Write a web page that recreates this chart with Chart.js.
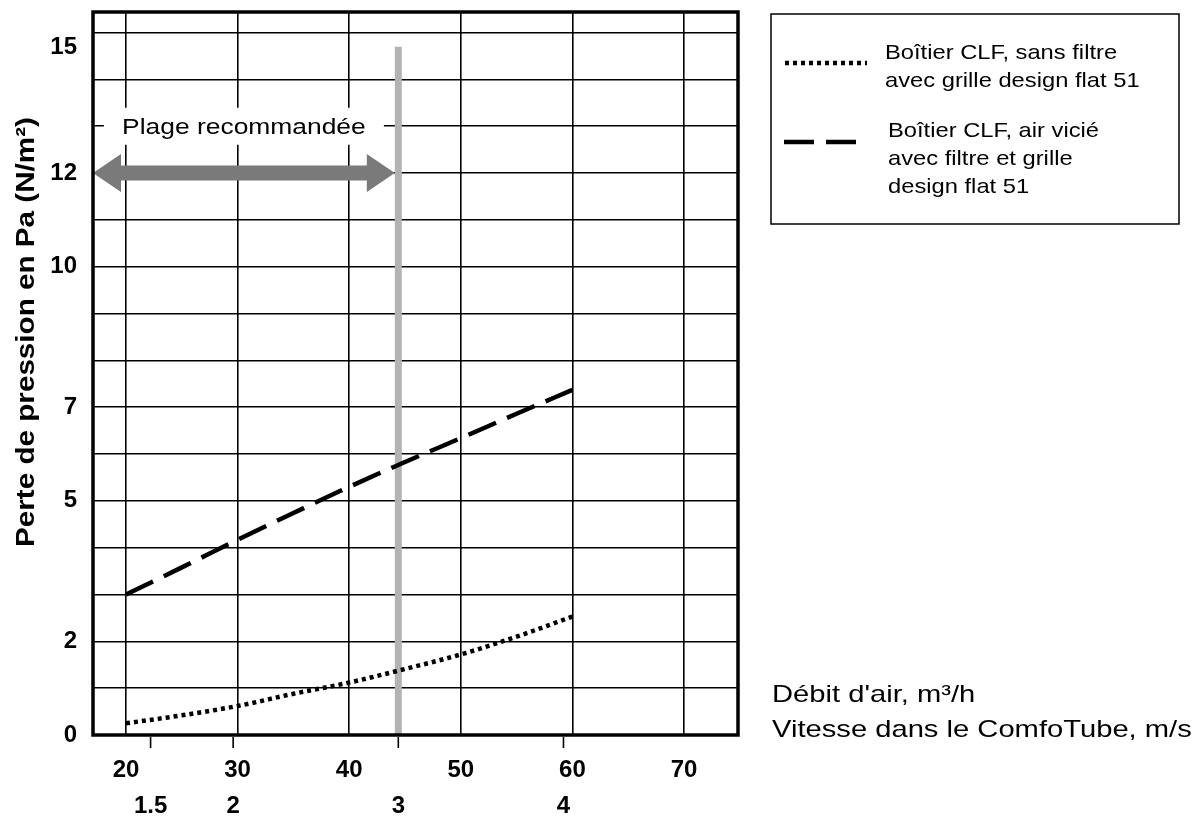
<!DOCTYPE html>
<html lang="fr">
<head>
<meta charset="utf-8">
<title>Perte de pression - Boîtier CLF</title>
<script src="https://cdn.jsdelivr.net/npm/chart.js@4.4.1/dist/chart.umd.min.js"></script>
<style>
  html, body { margin: 0; padding: 0; background: #fff; }
  #wrap { position: relative; width: 1196px; height: 816px; }
</style>
</head>
<body>
<div id="wrap"><canvas id="chart"></canvas></div>
<script>
// débit d'air (m3/h) and pressure loss (Pa)
const flow       = [20, 25, 30, 35, 40, 45, 50, 55, 60];
const sansFiltre = [0.25, 0.42, 0.62, 0.88, 1.12, 1.41, 1.72, 2.10, 2.53];
const airVicie   = [3.00, 3.58, 4.17, 4.74, 5.30, 5.83, 6.34, 6.86, 7.37];

const legendLines = [
  ['Boîtier CLF, sans filtre', 'avec grille design flat 51'],
  ['Boîtier CLF, air vicié', 'avec filtre et grille', 'design flat 51']
];

const flowTicks  = [20, 30, 40, 50, 60, 70];
const speedTicks = [1.5, 2, 3, 4];
const yGrid      = [0, 1, 2, 3, 4, 5, 6, 7, 8, 9, 10, 11, 12, 13, 14, 15];
const yLabels    = [0, 2, 5, 7, 10, 12, 15];

const m3hPerMs   = 14.8;   // m3/h per m/s in the ComfoTube
const recoSpeed  = 3;      // m/s, end of recommended range
const recoTop    = 14.7;
const arrowY     = 12;
const rangeLabelY = 13;
const flowMin = 17.04, flowMax = 74.84, yMax = 15.44;

const FONT = "'Liberation Sans', Arial, Helvetica, sans-serif";
Chart.defaults.font.family = FONT;
Chart.defaults.color = '#000';

function stretchText(ctx, text, x, y, font, sx, align) {
  ctx.save();
  ctx.font = font;
  ctx.fillStyle = '#000';
  ctx.textAlign = align || 'left';
  ctx.textBaseline = 'alphabetic';
  ctx.translate(x, y);
  ctx.scale(sx, 1);
  ctx.fillText(text, 0, 0);
  ctx.restore();
}

function noPad(s) {
  s.paddingTop = 0;
  s.paddingBottom = 0;
  s.paddingLeft = 0;
  s.paddingRight = 0;
}

const decor = {
  id: 'decor',
  beforeDatasetsDraw(chart) {
    const {ctx, chartArea: a, scales: {x, y}} = chart;
    const yc = y.getPixelForValue(arrowY);
    const x0 = a.left;
    const x1 = x.getPixelForValue(recoSpeed * m3hPerMs) - 3.5;
    const hl = 28, hh = 19, sh = 7.5;
    ctx.save();
    ctx.fillStyle = '#7a7a7a';
    ctx.beginPath();
    ctx.moveTo(x0, yc);
    ctx.lineTo(x0 + hl, yc - hh);
    ctx.lineTo(x0 + hl, yc - sh);
    ctx.lineTo(x1 - hl, yc - sh);
    ctx.lineTo(x1 - hl, yc - hh);
    ctx.lineTo(x1, yc);
    ctx.lineTo(x1 - hl, yc + hh);
    ctx.lineTo(x1 - hl, yc + sh);
    ctx.lineTo(x0 + hl, yc + sh);
    ctx.lineTo(x0 + hl, yc + hh);
    ctx.closePath();
    ctx.fill();

    const cx = (x0 + x1) / 2;
    const cy = y.getPixelForValue(rangeLabelY);
    ctx.fillStyle = '#fff';
    ctx.fillRect(cx - 140, cy - 18.5, 280, 37);
    ctx.restore();
    stretchText(ctx, 'Plage recommandée', cx, cy + 8, '22px ' + FONT, 1.2, 'center');
  },
  afterDatasetsDraw(chart) {
    const {ctx, chartArea: a, scales} = chart;
    ctx.save();
    ctx.strokeStyle = '#000';
    ctx.lineWidth = 1.6;
    speedTicks.forEach(v => {
      const px = scales.speed.getPixelForValue(v);
      ctx.beginPath();
      ctx.moveTo(px, a.bottom + 2);
      ctx.lineTo(px, a.bottom + 13);
      ctx.stroke();
    });
    ctx.lineWidth = 3.5;
    ctx.strokeRect(a.left, a.top, a.right - a.left, a.bottom - a.top);
    ctx.restore();
  },
  afterDraw(chart) {
    const ctx = chart.ctx;
    // legend box
    ctx.save();
    ctx.strokeStyle = '#000';
    ctx.lineWidth = 1.5;
    ctx.strokeRect(771, 14, 408, 210);
    const samples = [{y: 63, x0: 785, x1: 867}, {y: 142, x0: 784, x1: 860}];
    chart.data.datasets.slice(0, 2).forEach((ds, i) => {
      ctx.beginPath();
      ctx.lineWidth = ds.borderWidth;
      ctx.lineCap = 'butt';
      ctx.setLineDash(ds.borderDash);
      ctx.moveTo(samples[i].x0, samples[i].y);
      ctx.lineTo(samples[i].x1, samples[i].y);
      ctx.stroke();
    });
    ctx.restore();
    const textX = [885, 888];
    const firstBase = [59, 137];
    legendLines.forEach((lines, i) => {
      lines.forEach((t, j) => {
        stretchText(ctx, t, textX[i], firstBase[i] + j * 28, '21px ' + FONT, 1.13);
      });
    });

    // axis titles
    stretchText(ctx, "Débit d'air, m³/h", 772, 702, '24px ' + FONT, 1.215);
    stretchText(ctx, 'Vitesse dans le ComfoTube, m/s', 772, 737, '24px ' + FONT, 1.215);

    ctx.save();
    ctx.translate(34, 332);
    ctx.rotate(-Math.PI / 2);
    ctx.scale(1.14, 1);
    ctx.font = 'bold 26px ' + FONT;
    ctx.fillStyle = '#000';
    ctx.textAlign = 'center';
    ctx.textBaseline = 'alphabetic';
    ctx.fillText('Perte de pression en Pa (N/m²)', 0, 0);
    ctx.restore();
  }
};

const recoFlow = recoSpeed * m3hPerMs;

new Chart(document.getElementById('chart'), {
  type: 'line',
  data: {
    datasets: [
      {
        label: legendLines[0].join(' '),
        data: flow.map((f, i) => ({x: f, y: sansFiltre[i]})),
        borderColor: '#000',
        borderWidth: 4.5,
        borderDash: [4, 4],
        borderCapStyle: 'butt',
        pointRadius: 0,
        cubicInterpolationMode: 'monotone',
        order: 1
      },
      {
        label: legendLines[1].join(' '),
        data: flow.map((f, i) => ({x: f, y: airVicie[i]})),
        borderColor: '#000',
        borderWidth: 4.5,
        borderDash: [30, 12],
        borderCapStyle: 'butt',
        pointRadius: 0,
        cubicInterpolationMode: 'monotone',
        order: 2
      },
      {
        label: 'Plage recommandée',
        data: [{x: recoFlow, y: 0}, {x: recoFlow, y: recoTop}],
        borderColor: '#b3b3b3',
        borderWidth: 7,
        borderCapStyle: 'butt',
        pointRadius: 0,
        order: 5
      }
    ]
  },
  options: {
    responsive: true,
    maintainAspectRatio: false,
    animation: false,
    layout: {padding: {top: 12, right: 458, left: 0, bottom: 0}},
    plugins: {legend: {display: false}, tooltip: {enabled: false}},
    scales: {
      x: {
        type: 'linear',
        position: 'bottom',
        weight: 0,
        min: flowMin,
        max: flowMax,
        afterBuildTicks: s => { s.ticks = flowTicks.map(v => ({value: v})); },
        afterFit: s => { s.height = 45; noPad(s); },
        grid: {color: '#000', lineWidth: 1.6, drawTicks: false},
        border: {display: false},
        ticks: {
          autoSkip: false,
          maxRotation: 0,
          padding: 20.6,
          font: {size: 24, weight: 'bold', lineHeight: 1.2}
        }
      },
      speed: {
        type: 'linear',
        position: 'bottom',
        axis: 'x',
        weight: 1,
        min: flowMin / m3hPerMs,
        max: flowMax / m3hPerMs,
        afterBuildTicks: s => { s.ticks = speedTicks.map(v => ({value: v})); },
        afterFit: s => { s.height = 36; noPad(s); },
        grid: {display: false, drawTicks: false},
        border: {display: false},
        ticks: {
          autoSkip: false,
          maxRotation: 0,
          padding: 11.6,
          font: {size: 24, weight: 'bold', lineHeight: 1.2},
          callback: v => String(v)
        }
      },
      y: {
        type: 'linear',
        position: 'left',
        min: 0,
        max: yMax,
        afterBuildTicks: s => { s.ticks = yGrid.map(v => ({value: v})); },
        afterFit: s => { s.width = 93; noPad(s); },
        grid: {color: '#000', lineWidth: 1.6, drawTicks: false},
        border: {display: false},
        ticks: {
          autoSkip: false,
          padding: 16,
          font: {size: 24, weight: 'bold', lineHeight: 1.2},
          callback: v => {
            if (!yLabels.includes(v)) return '';
            // top label sits a little below its grid line in the original
            return v === 15 ? ['', '15'] : String(v);
          }
        }
      }
    }
  },
  plugins: [decor]
});
</script>
</body>
</html>
